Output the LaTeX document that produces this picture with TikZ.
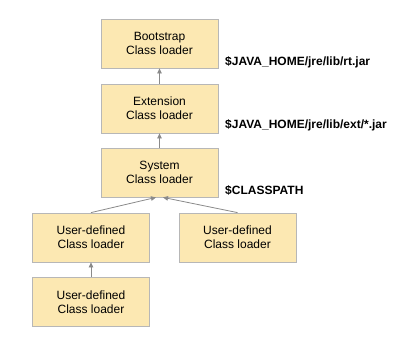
\documentclass[tikz,border=0pt]{standalone}
\usepackage{fontspec}
\setmainfont{Liberation Sans}
\usetikzlibrary{arrows.meta,calc}
\definecolor{boxfill}{HTML}{FCE8B2}
\definecolor{boxline}{HTML}{B7B7B7}
\definecolor{arrowc}{HTML}{8A8A8A}
\begin{document}
\begin{tikzpicture}[x=1pt,y=-1pt,
  loader/.style={draw=boxline,fill=boxfill,line width=0.8pt,minimum width=117pt,minimum height=49pt,
    align=center,font=\fontsize{12}{14}\selectfont,inner sep=0pt},
  pathlbl/.style={anchor=west,font=\fontsize{12}{14}\selectfont\bfseries,inner sep=0pt},
  conn/.style={draw=arrowc,line width=0.8pt,-{Triangle[length=5pt,width=4.5pt]}}]
\useasboundingbox (0,0) rectangle (407,340);
\node[loader] (boot) at (159.5,43.5) {Bootstrap\\Class loader};
\node[loader] (ext) at (159.5,108.5) {Extension\\Class loader};
\node[loader] (sys) at (159.5,172.5) {System\\Class loader};
\node[loader] (u1) at (91,237.5) {User-defined\\Class loader};
\node[loader] (u2) at (237.5,237.5) {User-defined\\Class loader};
\node[loader] (u3) at (91,302) {User-defined\\Class loader};
\node[pathlbl] (l1) at (225,62) {\$JAVA\_HOME/jre/lib/rt.jar};
\node[pathlbl] (l2) at (225,125) {\$JAVA\_HOME/jre/lib/ext/*.jar};
\node[pathlbl] (l3) at (225,190) {\$CLASSPATH};
\coordinate (sl) at ($(sys.south)+(-3.5,0)$);
\coordinate (sr) at ($(sys.south)+(3.5,0)$);
\draw[conn] (ext.north) -- (boot.south);
\draw[conn] (sys.north) -- (ext.south);
\draw[conn] (u1.north) -- (sl);
\draw[conn] (u2.north) -- (sr);
\draw[conn] (u3.north) -- (u1.south);
\end{tikzpicture}
\end{document}
